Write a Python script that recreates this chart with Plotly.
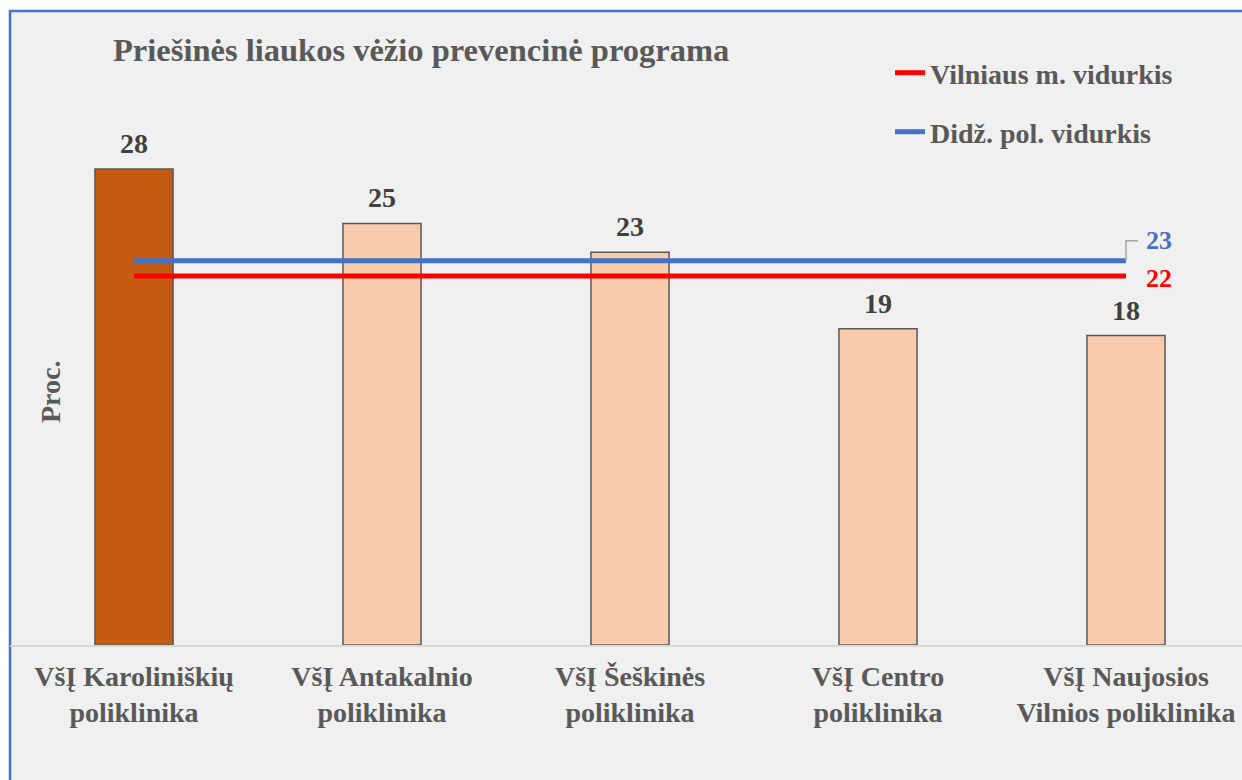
import plotly.graph_objects as go

# ---- data ----
categories = [
    "VšĮ Karoliniškių<br>poliklinika",
    "VšĮ Antakalnio<br>poliklinika",
    "VšĮ Šeškinės<br>poliklinika",
    "VšĮ Centro<br>poliklinika",
    "VšĮ Naujosios<br>Vilnios poliklinika",
]
values = [28.0, 24.8, 23.1, 18.6, 18.2]
bar_colors = ["#C55A11", "#F8CBAD", "#F8CBAD", "#F8CBAD", "#F8CBAD"]
vilnius_name = "Vilniaus m. vidurkis"
vilnius_avg = 21.7
bigpol_name = "Didž. pol. vidurkis"
bigpol_avg = 22.6
title_text = "Priešinės liaukos vėžio prevencinė programa"
y_title = "Proc."

FONT = "Liberation Serif"
GRAY = "#595959"

W, H = 1242, 780
ML, MR, MT, MB = 10, 0, 135, 135
plot_w = W - ML - MR
plot_h = H - MT - MB
YMAX = 30
cat_px = 248.0
x_range = [-0.5, -0.5 + plot_w / cat_px]

fig = go.Figure()

fig.add_trace(go.Bar(
    x=categories, y=values,
    marker=dict(color=bar_colors, line=dict(color=GRAY, width=1.5)),
    width=0.315, cliponaxis=False, showlegend=False,
))

# data labels above bars
for c, v in zip(categories, values):
    fig.add_annotation(x=c, y=v, xref="x", yref="y", text=f"{v:.0f}", showarrow=False,
                       yanchor="bottom", yshift=8,
                       font=dict(family=FONT, size=28, color="#404040", weight="bold"))

fig.add_trace(go.Scatter(
    x=categories, y=[vilnius_avg] * len(categories), mode="lines",
    line=dict(color="#FF0000", width=5), name=vilnius_name, legend="legend",
))
fig.add_trace(go.Scatter(
    x=categories, y=[bigpol_avg] * len(categories), mode="lines",
    line=dict(color="#4472C4", width=5), name=bigpol_name, legend="legend2",
))

# end labels for the average lines
px_per_unit = plot_h / YMAX
last = len(categories) - 1
lead_dy = 20 / px_per_unit
lead_dx = 12 / cat_px
fig.add_shape(type="path", xref="x", yref="y",
              path=f"M {last},{bigpol_avg} L {last},{bigpol_avg + lead_dy} L {last + lead_dx},{bigpol_avg + lead_dy}",
              line=dict(color="#A6A6A6", width=1.5))
fig.add_annotation(x=last, y=bigpol_avg, xref="x", yref="y", text=f"{bigpol_avg:.0f}",
                   showarrow=False, xanchor="left", xshift=18, yshift=20,
                   font=dict(family=FONT, size=26, color="#4472C4", weight="bold"))
fig.add_annotation(x=last, y=vilnius_avg, xref="x", yref="y", text=f"{vilnius_avg:.0f}",
                   showarrow=False, xanchor="left", xshift=18, yshift=-2,
                   font=dict(family=FONT, size=26, color="#FF0000", weight="bold"))

# y title inside the chart area
fig.add_annotation(text=y_title, xref="paper", yref="paper", x=(50 - ML) / plot_w, y=(H - MB - 392) / plot_h,
                   xanchor="center", yanchor="middle", textangle=-90, showarrow=False,
                   font=dict(family=FONT, size=28, color=GRAY, weight="bold"))

# chart area background and border
fig.add_shape(type="rect", xref="paper", yref="paper", x0=0, x1=1.1,
              y0=(H - MB - 11) / plot_h, y1=-0.5, layer="below",
              fillcolor="#F0F0F0", line=dict(color="#4472C4", width=2.5))

legend_font = dict(family=FONT, size=28, color=GRAY, weight="bold")
fig.update_layout(
    width=W, height=H,
    margin=dict(l=ML, r=MR, t=MT, b=MB),
    paper_bgcolor="white", plot_bgcolor="rgba(0,0,0,0)",
    title=dict(text=title_text, xref="container", yref="container", x=113 / W, xanchor="left",
               y=1 - 50 / H, yanchor="middle",
               font=dict(family=FONT, size=32.5, color=GRAY, weight="bold")),
    legend=dict(x=(890 - ML) / plot_w, y=(H - MB - 73) / plot_h, xanchor="left", yanchor="middle",
                bgcolor="rgba(0,0,0,0)", font=legend_font),
    legend2=dict(x=(890 - ML) / plot_w, y=(H - MB - 132) / plot_h, xanchor="left", yanchor="middle",
                 bgcolor="rgba(0,0,0,0)", font=legend_font),
    xaxis=dict(range=x_range, showline=True, linecolor="#D9D9D9", linewidth=2, ticks="",
               showgrid=False, zeroline=False, ticklabelstandoff=5,
               tickfont=dict(family=FONT, size=28, color=GRAY, weight="bold")),
    yaxis=dict(range=[0, YMAX], showticklabels=False, showgrid=False, zeroline=False, showline=False),
)

fig.write_html("out.html", config={"displayModeBar": False},
               post_script="document.body.style.margin='0px';")
